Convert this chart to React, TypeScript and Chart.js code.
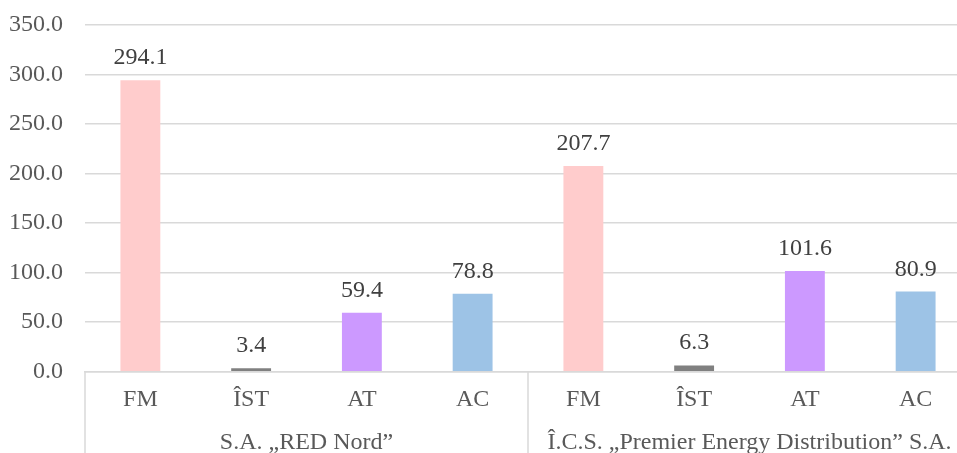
import React, { useEffect, useRef } from "react";
import { Chart, registerables } from "chart.js";
Chart.register(...registerables);

const categories = ["FM", "ÎST", "AT", "AC", "FM", "ÎST", "AT", "AC"];
const values = [294.1, 3.4, 59.4, 78.8, 207.7, 6.3, 101.6, 80.9];
const groups = ["S.A. „RED Nord”", "Î.C.S. „Premier Energy Distribution” S.A."];
const groupSize = 4;
const categoryColors: Record<string, string> = {
  FM: "#FFCCCC",
  "ÎST": "#808080",
  AT: "#CC99FF",
  AC: "#9DC3E6",
};
const yMin = 0;
const yMax = 350;
const yStep = 50;

const FONT = "'Liberation Serif', 'Times New Roman', serif";
const FS = 24;

const overlayPlugin = {
  id: "overlay",
  afterDatasetsDraw(chart: any) {
    const ctx = chart.ctx;
    const meta = chart.getDatasetMeta(0);
    ctx.save();
    ctx.font = `${FS}px ${FONT}`;
    ctx.fillStyle = "#404040";
    ctx.textAlign = "center";
    ctx.textBaseline = "alphabetic";
    meta.data.forEach((el: any, i: number) => {
      ctx.fillText(values[i].toFixed(1), el.x, el.y - 16);
    });
    ctx.restore();
  },
  afterDraw(chart: any) {
    const ctx = chart.ctx;
    const x = chart.scales.x;
    const area = chart.chartArea;
    const half = (x.getPixelForValue(1) - x.getPixelForValue(0)) / 2;
    ctx.save();
    ctx.strokeStyle = "#D9D9D9";
    ctx.lineWidth = 1.5;
    for (let g = 0; g <= groups.length; g++) {
      const idx = g * groupSize;
      const px = x.getPixelForValue(Math.min(idx, categories.length - 1)) + (idx >= categories.length ? half : -half);
      ctx.beginPath();
      ctx.moveTo(px, area.bottom);
      ctx.lineTo(px, chart.height);
      ctx.stroke();
    }
    ctx.font = `${FS}px ${FONT}`;
    ctx.fillStyle = "#595959";
    ctx.textAlign = "center";
    ctx.textBaseline = "alphabetic";
    groups.forEach((name, g) => {
      const a = x.getPixelForValue(g * groupSize);
      const b = x.getPixelForValue(g * groupSize + groupSize - 1);
      ctx.fillText(name, (a + b) / 2, 449);
    });
    ctx.restore();
  },
};

export default function App() {
  const ref = useRef<HTMLCanvasElement | null>(null);
  useEffect(() => {
    if (!ref.current) return;
    const chart = new Chart(ref.current, {
      type: "bar",
      data: {
        labels: categories,
        datasets: [
          {
            data: values,
            backgroundColor: categories.map((c) => categoryColors[c]),
            barPercentage: 0.36,
            categoryPercentage: 1,
          },
        ],
      },
      options: {
        responsive: false,
        animation: false,
        devicePixelRatio: 1,
        layout: { padding: { top: 25, left: 0, right: 0, bottom: 24.5 } },
        plugins: { legend: { display: false }, tooltip: { enabled: false } },
        scales: {
          x: {
            grid: { display: false, drawTicks: false, drawOnChartArea: false },
            border: { display: true, color: "#D9D9D9", width: 1.5 },
            ticks: {
              padding: 14,
              color: "#595959",
              font: { family: FONT, size: FS },
              maxRotation: 0,
              autoSkip: false,
            },
          },
          y: {
            min: yMin,
            max: yMax,
            afterFit: (s: any) => {
              s.width = 85;
              s.paddingTop = 10;
            },
            grid: { color: "#D9D9D9", lineWidth: 1.5, drawTicks: false },
            border: { display: false, width: 0 },
            ticks: {
              stepSize: yStep,
              padding: 22,
              color: "#595959",
              font: { family: FONT, size: FS },
              callback: (v: any) => Number(v).toFixed(1),
            },
          },
        },
      },
      plugins: [overlayPlugin],
    });
    return () => chart.destroy();
  }, []);
  return (
    <div
      style={{
        position: "fixed",
        left: 0,
        top: 0,
        width: 957,
        height: 453,
        overflow: "hidden",
        background: "#fff",
      }}
    >
      <canvas ref={ref} width={971} height={453} style={{ width: 971, height: 453, display: "block" }} />
    </div>
  );
}
